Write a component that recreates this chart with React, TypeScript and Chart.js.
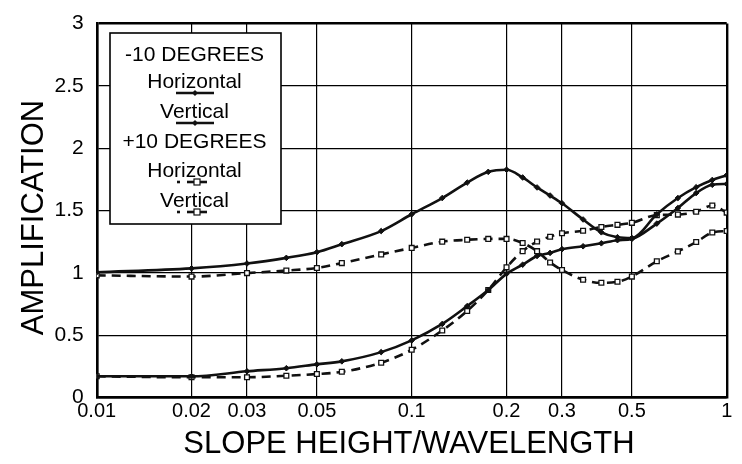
import React, { useEffect, useRef } from 'react';
import { Chart, registerables } from 'chart.js';

Chart.register(...registerables);

// ---- data ----
const xValues = [0.01, 0.02, 0.03, 0.04, 0.05, 0.06, 0.08, 0.1, 0.125, 0.15, 0.175, 0.2, 0.225, 0.25, 0.275, 0.3, 0.35, 0.4, 0.45, 0.5, 0.6, 0.7, 0.8, 0.9, 1.0];
const minus10Horizontal = [1.005, 1.036, 1.075, 1.12, 1.166, 1.23, 1.335, 1.47, 1.6, 1.724, 1.81, 1.827, 1.765, 1.685, 1.62, 1.558, 1.428, 1.325, 1.286, 1.28, 1.47, 1.6, 1.687, 1.745, 1.783];
const minus10Vertical = [0.17, 0.17, 0.21, 0.235, 0.266, 0.29, 0.364, 0.458, 0.59, 0.733, 0.862, 0.992, 1.065, 1.135, 1.16, 1.19, 1.213, 1.237, 1.262, 1.272, 1.395, 1.52, 1.64, 1.706, 1.713];
const plus10Horizontal = [0.98, 0.97, 0.998, 1.018, 1.039, 1.078, 1.148, 1.2, 1.25, 1.265, 1.272, 1.272, 1.239, 1.174, 1.083, 1.023, 0.945, 0.92, 0.928, 0.97, 1.093, 1.172, 1.247, 1.323, 1.335];
const plus10Vertical = [0.17, 0.162, 0.162, 0.175, 0.188, 0.206, 0.279, 0.383, 0.538, 0.694, 0.862, 1.044, 1.174, 1.251, 1.29, 1.317, 1.337, 1.368, 1.385, 1.401, 1.463, 1.467, 1.49, 1.54, 1.483];
const xTickValues = [0.01, 0.02, 0.03, 0.05, 0.1, 0.2, 0.3, 0.5, 1];
const yTickValues = [0, 0.5, 1, 1.5, 2, 2.5, 3];
const xTitle = 'SLOPE HEIGHT/WAVELENGTH';
const yTitle = 'AMPLIFICATION';
const legendHeaderMinus = '-10 DEGREES';
const legendHeaderPlus = '+10 DEGREES';
const labelHorizontal = 'Horizontal';
const labelVertical = 'Vertical';

const FONT = '"Liberation Sans", Arial, Helvetica, sans-serif';
const INK = '#111';

const toPoints = (ys: number[]) => ys.map((y, i) => ({ x: xValues[i], y }));

const solidStyle = {
  borderColor: INK,
  borderWidth: 2.6,
  pointStyle: 'rectRot',
  pointRadius: 2.8,
  pointBackgroundColor: INK,
  pointBorderColor: INK,
  pointBorderWidth: 1,
  cubicInterpolationMode: 'monotone',
  fill: false,
};
const dashedStyle = {
  borderColor: INK,
  borderWidth: 2.6,
  borderDash: [9, 6],
  pointStyle: 'rect',
  pointRadius: 3.4,
  pointBackgroundColor: '#fff',
  pointBorderColor: INK,
  pointBorderWidth: 1.3,
  cubicInterpolationMode: 'monotone',
  fill: false,
};

const overlayPlugin = {
  id: 'overlay',
  afterDraw(chart: any) {
    const ctx = chart.ctx as CanvasRenderingContext2D;
    ctx.save();
    ctx.fillStyle = '#000';
    ctx.textAlign = 'center';
    ctx.textBaseline = 'alphabetic';
    // axis titles
    ctx.font = `31px ${FONT}`;
    ctx.fillText(xTitle, 409, 453);
    ctx.save();
    ctx.translate(43, 217.5);
    ctx.rotate(-Math.PI / 2);
    ctx.fillText(yTitle, 0, 0);
    ctx.restore();

    // legend box
    const bx = 110, by = 33, bw = 171, bh = 191;
    ctx.fillStyle = '#fff';
    ctx.fillRect(bx, by, bw, bh);
    ctx.strokeStyle = '#000';
    ctx.lineWidth = 1.6;
    ctx.strokeRect(bx, by, bw, bh);

    ctx.fillStyle = '#000';
    ctx.font = `21px ${FONT}`;
    const cx = 194.5;
    ctx.fillText(legendHeaderMinus, cx, 61);
    ctx.fillText(labelHorizontal, cx, 88);
    ctx.fillText(labelVertical, cx, 117.5);
    ctx.fillText(legendHeaderPlus, cx, 148);
    ctx.fillText(labelHorizontal, cx, 176.5);
    ctx.fillText(labelVertical, cx, 206.5);

    const solidSample = (y: number) => {
      ctx.setLineDash([]);
      ctx.strokeStyle = INK;
      ctx.lineWidth = 2.6;
      ctx.beginPath();
      ctx.moveTo(176, y);
      ctx.lineTo(214, y);
      ctx.stroke();
      ctx.fillStyle = INK;
      ctx.beginPath();
      ctx.moveTo(195, y - 3);
      ctx.lineTo(198, y);
      ctx.lineTo(195, y + 3);
      ctx.lineTo(192, y);
      ctx.closePath();
      ctx.fill();
    };
    const dashedSample = (y: number) => {
      ctx.setLineDash([]);
      ctx.strokeStyle = INK;
      ctx.lineWidth = 2.6;
      const segs = [[177, 180], [187, 194], [200, 207]];
      segs.forEach(([a, b]) => {
        ctx.beginPath();
        ctx.moveTo(a, y);
        ctx.lineTo(b, y);
        ctx.stroke();
      });
      ctx.fillStyle = '#fff';
      ctx.fillRect(194, y - 3, 6, 6);
      ctx.lineWidth = 1.2;
      ctx.strokeRect(194, y - 3, 6, 6);
    };
    solidSample(93);
    solidSample(123);
    dashedSample(182);
    dashedSample(212);
    ctx.restore();
  },
};

export default function App() {
  const ref = useRef<HTMLCanvasElement>(null);

  useEffect(() => {
    const canvas = ref.current;
    if (!canvas) return;
    const chart = new Chart(canvas, {
      type: 'line',
      data: {
        datasets: [
          { label: '-10 Horizontal', data: toPoints(minus10Horizontal), ...solidStyle } as any,
          { label: '-10 Vertical', data: toPoints(minus10Vertical), ...solidStyle } as any,
          { label: '+10 Horizontal', data: toPoints(plus10Horizontal), ...dashedStyle } as any,
          { label: '+10 Vertical', data: toPoints(plus10Vertical), ...dashedStyle } as any,
        ],
      },
      options: {
        responsive: false,
        animation: false,
        devicePixelRatio: 1,
        layout: { padding: { left: 0, top: 12, right: 15.3, bottom: 0 } },
        plugins: {
          legend: { display: false },
          tooltip: { enabled: false },
        },
        scales: {
          x: {
            type: 'logarithmic',
            min: 0.01,
            max: 1,
            afterBuildTicks: (s: any) => {
              s.ticks = xTickValues.map((v) => ({ value: v }));
            },
            afterFit: (s: any) => {
              s.height = 66.5;
            },
            grid: {
              color: '#000',
              lineWidth: (c: any) => (c.tick && (c.tick.value === 0.01 || c.tick.value === 1) ? 2.4 : 1.2),
              drawTicks: false,
            },
            border: { display: true, color: '#000', width: 2.4 },
            ticks: {
              color: '#000',
              font: { family: FONT, size: 20, lineHeight: 1 },
              padding: 4,
              maxRotation: 0,
              autoSkip: false,
              callback: (v: any) => String(Number(v)),
            },
          },
          y: {
            type: 'linear',
            min: 0,
            max: 3,
            afterBuildTicks: (s: any) => {
              s.ticks = yTickValues.map((v) => ({ value: v }));
            },
            afterFit: (s: any) => {
              s.width = 96.7;
            },
            grid: {
              color: '#000',
              lineWidth: (c: any) => (c.tick && (c.tick.value === 0 || c.tick.value === 3) ? 2.4 : 1.2),
              drawTicks: false,
            },
            border: { display: true, color: '#000', width: 2.4 },
            ticks: {
              color: '#000',
              font: { family: FONT, size: 21, lineHeight: 1 },
              padding: 13,
              callback: (v: any) => String(Number(v)),
            },
          },
        },
      } as any,
      plugins: [overlayPlugin],
    });
    return () => chart.destroy();
  }, []);

  return (
    <div style={{ position: 'fixed', left: 0, top: 0, width: 742, height: 464, background: '#fff' }}>
      <canvas ref={ref} width={742} height={464} style={{ display: 'block', width: 742, height: 464 }} />
    </div>
  );
}
